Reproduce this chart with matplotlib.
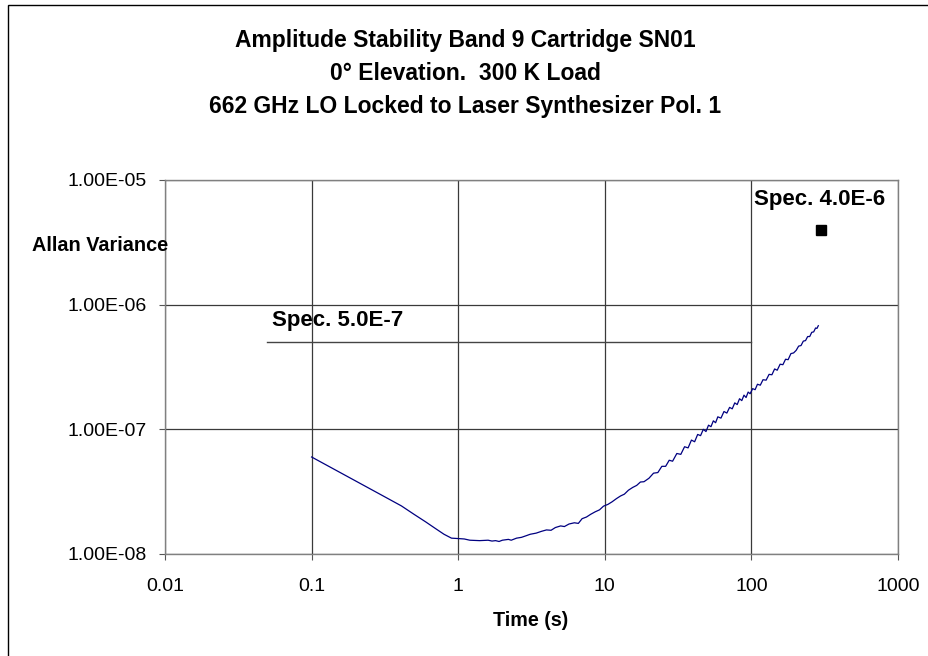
import matplotlib
matplotlib.use("Agg")
import matplotlib.pyplot as plt
from matplotlib.patches import Rectangle
from matplotlib.ticker import FixedLocator, FixedFormatter

plt.rcParams['font.family'] = ['Liberation Sans', 'DejaVu Sans']

# Allan variance vs integration time (y in units of 1e-8)
t = [0.1, 0.2, 0.3, 0.41, 0.5, 0.6, 0.7, 0.8, 0.9, 1.0, 1.1, 1.2, 1.4, 1.6, 1.7,
     1.8, 1.9, 2.0, 2.2, 2.3, 2.5, 2.7, 2.9, 3.1, 3.4, 3.7, 4.0, 4.3, 4.6, 5.0,
     5.3, 5.7, 6.2, 6.6, 7.0, 7.5, 8.0, 8.6, 9.2, 9.8, 10.5, 11.2, 12.0, 12.8,
     13.6, 14.5, 15.5, 16.5, 17.5, 18.5, 20.0, 21.5, 23.0, 24.5, 26.0, 27.5,
     29.0, 31.0, 33.0, 35.0, 37.0, 39.0, 41.0, 43.0, 45.0, 47.0, 49.0, 51.0,
     53.0, 55.0, 57.0, 59.0, 62.0, 65.0, 68.0, 71.0, 74.0, 77.0, 80.0, 83.0,
     86.0, 89.0, 92.0, 95.0, 98.0, 102, 106, 110, 115, 120, 126, 132, 138, 144,
     150, 157, 164, 171, 178, 186, 194, 202, 210, 218, 226, 234, 242, 250, 258,
     266, 274, 280, 286]
av = [6.00, 3.85, 2.97, 2.43, 2.08, 1.81, 1.60, 1.44, 1.34, 1.33, 1.32, 1.29,
      1.28, 1.29, 1.27, 1.28, 1.26, 1.29, 1.31, 1.29, 1.34, 1.36, 1.40, 1.44,
      1.47, 1.52, 1.56, 1.55, 1.63, 1.68, 1.66, 1.74, 1.78, 1.76, 1.92, 1.98,
      2.08, 2.18, 2.26, 2.42, 2.50, 2.62, 2.78, 2.92, 3.02, 3.25, 3.42, 3.55,
      3.78, 3.80, 4.05, 4.45, 4.50, 5.05, 5.05, 5.65, 5.55, 6.40, 6.30, 7.25,
      7.10, 8.20, 7.95, 9.10, 8.90, 10.0, 9.60, 10.8, 10.5, 11.7, 11.3, 12.6,
      12.3, 13.9, 13.5, 15.0, 14.6, 16.3, 15.8, 17.6, 17.0, 18.8, 18.0, 19.9,
      19.3, 21.2, 20.8, 23.0, 22.6, 25.0, 24.8, 27.6, 27.4, 30.5, 29.8, 33.3,
      33.0, 36.5, 36.2, 40.5, 41.0, 43.0, 46.5, 47.0, 51.0, 51.5, 55.5, 55.5,
      60.0, 60.5, 65.0, 64.5, 67.8]
av = [v * 1e-8 for v in av]

spec_t = [0.05, 100]
spec_v = [5.0e-7, 5.0e-7]
spec2_t = 300
spec2_v = 4.0e-6

xticks = [0.01, 0.1, 1, 10, 100, 1000]
xlabels = ["0.01", "0.1", "1", "10", "100", "1000"]
yticks = [1e-8, 1e-7, 1e-6, 1e-5]
ylabels = ["1.00E-08", "1.00E-07", "1.00E-06", "1.00E-05"]

W, H = 929, 656
fig = plt.figure(figsize=(W / 100, H / 100), dpi=100)
ax = fig.add_axes([165 / W, 1 - 554 / H, 733 / W, 374 / H])

ax.set_xscale("log")
ax.set_yscale("log")
ax.set_xlim(0.01, 1000)
ax.set_ylim(1e-8, 1e-5)

ax.xaxis.set_major_locator(FixedLocator(xticks))
ax.xaxis.set_major_formatter(FixedFormatter(xlabels))
ax.yaxis.set_major_locator(FixedLocator(yticks))
ax.yaxis.set_major_formatter(FixedFormatter(ylabels))
ax.minorticks_off()
ax.tick_params(axis="x", direction="out", length=4.3, width=0.8, color="#555555",
               pad=13, labelsize=14)
ax.tick_params(axis="y", direction="out", length=4.3, width=0.8, color="#555555",
               pad=8.5, labelsize=14)

ax.grid(True, color="#3a3a3a", linewidth=0.9)
for s in ax.spines.values():
    s.set_color("#808080")
    s.set_linewidth(1.0)

ax.plot(t, av, color="#000080", linewidth=0.9)
ax.plot(spec_t, spec_v, color="#444444", linewidth=1.0)
ax.plot([spec2_t], [spec2_v], marker="s", color="black", markersize=6.5, linestyle="none")

ax.text(0.054, 7.5e-7, "Spec. 5.0E-7", fontsize=16, fontweight="bold",
        ha="left", va="center")
ax.text(290, 7.0e-6, "Spec. 4.0E-6", fontsize=16, fontweight="bold",
        ha="center", va="center")

fig.text(32 / W, 1 - 245 / H, "Allan Variance", fontsize=14.3, fontweight="bold",
         ha="left", va="center")
fig.text(531 / W, 1 - 620 / H, "Time (s)", fontsize=14.2, fontweight="bold",
         ha="center", va="center")

titles = ["Amplitude Stability Band 9 Cartridge SN01",
          "0° Elevation.  300 K Load",
          "662 GHz LO Locked to Laser Synthesizer Pol. 1"]
for i, line in enumerate(titles):
    fig.text(465 / W, 1 - (41 + 33 * i) / H, line, fontsize=16.5, fontweight="bold",
             ha="center", va="center")

fig.add_artist(Rectangle((8 / W, -0.1), 1.2, 1 - 5 / H + 0.1, transform=fig.transFigure,
                         fill=False, edgecolor="black", linewidth=1.0))

fig.savefig("out.png", dpi=100)
